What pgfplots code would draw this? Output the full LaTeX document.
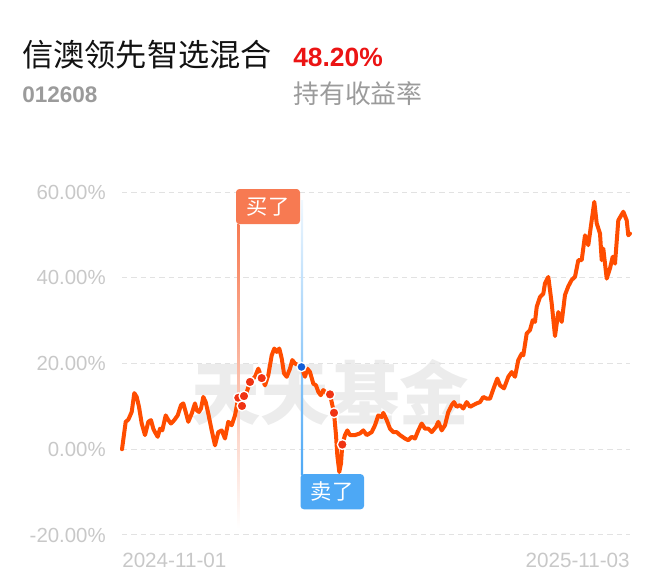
\documentclass[border=0pt]{standalone}
\usepackage{fontspec}
\setmainfont{Liberation Sans}
\newfontfamily\cjk{Noto Sans CJK SC}
\usepackage{pgfplots}
\pgfplotsset{compat=1.18}

\definecolor{linec}{RGB}{255,77,0}
\definecolor{dotc}{RGB}{240,52,20}
\definecolor{buyc}{RGB}{247,122,82}
\definecolor{sellc}{RGB}{77,168,245}
\definecolor{bluedot}{RGB}{20,95,215}
\definecolor{tickc}{RGB}{200,200,200}
\definecolor{gridc}{RGB}{226,226,226}
\definecolor{wmc}{RGB}{236,236,236}
\definecolor{redc}{RGB}{235,20,20}
\definecolor{greyc}{RGB}{155,155,155}

\begin{document}
\begin{tikzpicture}[x=0.75pt,y=0.75pt]
\path[use as bounding box] (0,0) rectangle (660,585);

% header
\node[anchor=base west,inner sep=0pt,font=\cjk\fontsize{23.4}{24}\selectfont,text=black!93] at (22,518) {信澳领先智选混合};
\node[anchor=base west,inner sep=0pt,font=\bfseries\fontsize{19.8}{20}\selectfont,text=redc] at (293,518) {48.20\%};
\node[anchor=base west,inner sep=0pt,font=\bfseries\fontsize{16.9}{17}\selectfont,text=greyc] at (22,482) {012608};
\node[anchor=base west,inner sep=0pt,font=\cjk\fontsize{19.4}{20}\selectfont,text=greyc] at (293,481) {持有收益率};

% watermark
\node[font=\cjk\bfseries\fontsize{52}{52}\selectfont,text=wmc] at (330,193) {天天基金};

\begin{axis}[
  at={(91.5pt,37.5pt)}, anchor=south west,
  scale only axis, width=381pt, height=257.25pt,
  xmin=0, xmax=508, ymin=-20, ymax=60,
  clip=false,
  axis line style={draw=none},
  major tick length=0pt,
  xtick=\empty,
  ytick={-20,0,20,40,60},
  yticklabels={-20.00\%,0.00\%,20.00\%,40.00\%,60.00\%},
  yticklabel style={font=\fontsize{15.3}{16}\selectfont,text=tickc,anchor=east,inner sep=0pt,xshift=-12pt},
  ymajorgrids,
  grid style={gridc,line width=0.75pt,dash pattern=on 4pt off 3pt},
]
% buy / sell vertical markers
\shade[top color=buyc,middle color=buyc!75,bottom color=white] (axis cs:115,52.5) rectangle (axis cs:117.4,-18.4);
\shade[top color=sellc!8,middle color=sellc!80,bottom color=sellc] (axis cs:178.8,58.1) rectangle (axis cs:181.2,-5.8);

% return curve
\addplot[linec,line width=3pt,line join=round,line cap=round] coordinates {
(0,0) (3.7,6.4) (6.3,6.9) (9.7,8.7) (12.3,13.1) (14.7,12.2) (17,9.9) (19.7,6.0)
(23,3.3) (26.3,6.4) (29,6.8) (31.3,4.8) (33,4.0) (35.7,2.9) (38,4.8) (40.3,4.4)
(43.7,7.9) (46.3,6.8) (49,6.0) (52.3,6.8) (55.7,7.9) (59,10.3) (61.3,10.7) (63.7,8.7)
(66.3,6.4) (69.7,8.3) (73,10.7) (74.7,9.1) (77,8.7) (79,9.5) (81.3,12.2) (83.7,11.0)
(86.3,8.3) (89.7,4.4) (93,0.9) (96.3,4.0) (99.7,4.4) (103,2.5) (106.3,6.4) (109.7,5.6)
(113,7.9) (116.3,12.0) (120,10.1) (122,12.4) (124.5,13.2) (128,15.7) (133,16.9) (136.3,18.8)
(139.7,16.6) (143,14.9) (146.3,17.3) (149.7,21.9) (152.3,23.5) (154.7,22.7) (157.3,23.5) (159.7,21.2)
(162,17.7) (164.7,16.9) (168,18.8) (170.3,20.8) (173,20.0) (176.3,19.6) (179.5,19.2) (183,16.9)
(185.3,18.8) (188,18.0) (191.3,15.3) (194,14.9) (196.3,13.4) (198.7,12.6) (201.3,13.8) (204.7,13.0)
(208,12.8) (212,8.5) (214,3.3) (215.3,-1.4) (217.3,-5.3) (219,-3.3) (220.3,1.1) (223,3.3)
(225.3,4.4) (228,3.3) (233,3.3) (238,3.7) (241.3,4.4) (244.7,3.3) (249.7,4.0) (253,5.6)
(256.3,7.9) (259.7,7.5) (261.3,8.5) (264.7,6.8) (268,4.8) (271.3,4.0) (274.7,4.0) (278,3.3)
(283,2.5) (286.3,2.1) (289.7,2.9) (293,2.5) (296.3,4.4) (299.7,6.0) (303,4.8) (306.3,4.8)
(309.7,4.0) (314,5.2) (316.3,6.4) (319.7,4.4) (323,5.6) (326.3,8.7) (329.7,10.3) (332,11.0)
(334.7,9.9) (338,10.3) (341.3,9.5) (344.7,11.0) (348,9.9) (351.3,10.3) (354.7,10.7) (358,11.0)
(361.3,12.2) (364.7,11.8) (368,11.8) (371.3,14.0) (375.3,16.5) (378,14.9) (382,14.2) (386.3,16.9)
(389.7,18.0) (393,16.9) (396.3,20.8) (399.7,22.3) (401.3,21.9) (404.7,27.0) (408,27.8) (410.7,30.1)
(413,29.7) (414.7,33.2) (418,35.5) (421.3,36.3) (423,38.7) (426.3,40.2) (429.7,34.0) (433,26.4)
(436.3,32.0) (439.7,29.7) (443,36.0) (446.3,38.0) (449.7,39.5) (453,40.2) (456.3,44.1) (459.7,44.1)
(463,49.9) (466.3,47.6) (469.7,53.4) (472.3,57.7) (474.7,52.7) (478,50.3) (479.7,44.1) (481.3,46.8)
(484.7,39.8) (488,42.2) (490.7,44.9) (493,43.3) (496.3,53.4) (501.3,55.4) (504.7,53.4) (506.3,49.9)
(508,50.3)
};

% trade points
\addplot[only marks,mark=*,mark size=3.7pt,mark options={fill=dotc,draw=white,line width=1pt}] coordinates {
(116.3,12.0) (120,10.1) (122,12.4) (128,15.7) (139.7,16.6) (208,12.8) (212,8.5) (220.3,1.1)
};
\addplot[only marks,mark=*,mark size=3.5pt,mark options={fill=bluedot,draw=white,line width=1pt}] coordinates {
(179.5,19.2)
};

% labels
\fill[buyc,rounded corners=2.5pt] (axis cs:114,60.7) rectangle (axis cs:178,52.5);
\node[font=\cjk\fontsize{16}{16}\selectfont,text=white] at (axis cs:146,56.6) {买了};
\fill[sellc,rounded corners=2.5pt] (axis cs:178.5,-5.8) rectangle (axis cs:242,-14.0);
\node[font=\cjk\fontsize{16}{16}\selectfont,text=white] at (axis cs:210,-9.9) {卖了};

% date labels
\node[anchor=base west,inner sep=0pt,font=\fontsize{15.5}{16}\selectfont,text=tickc] at (axis cs:0,-27.6) {2024-11-01};
\node[anchor=base east,inner sep=0pt,font=\fontsize{15.5}{16}\selectfont,text=tickc] at (axis cs:508,-27.6) {2025-11-03};
\end{axis}
\end{tikzpicture}
\end{document}
